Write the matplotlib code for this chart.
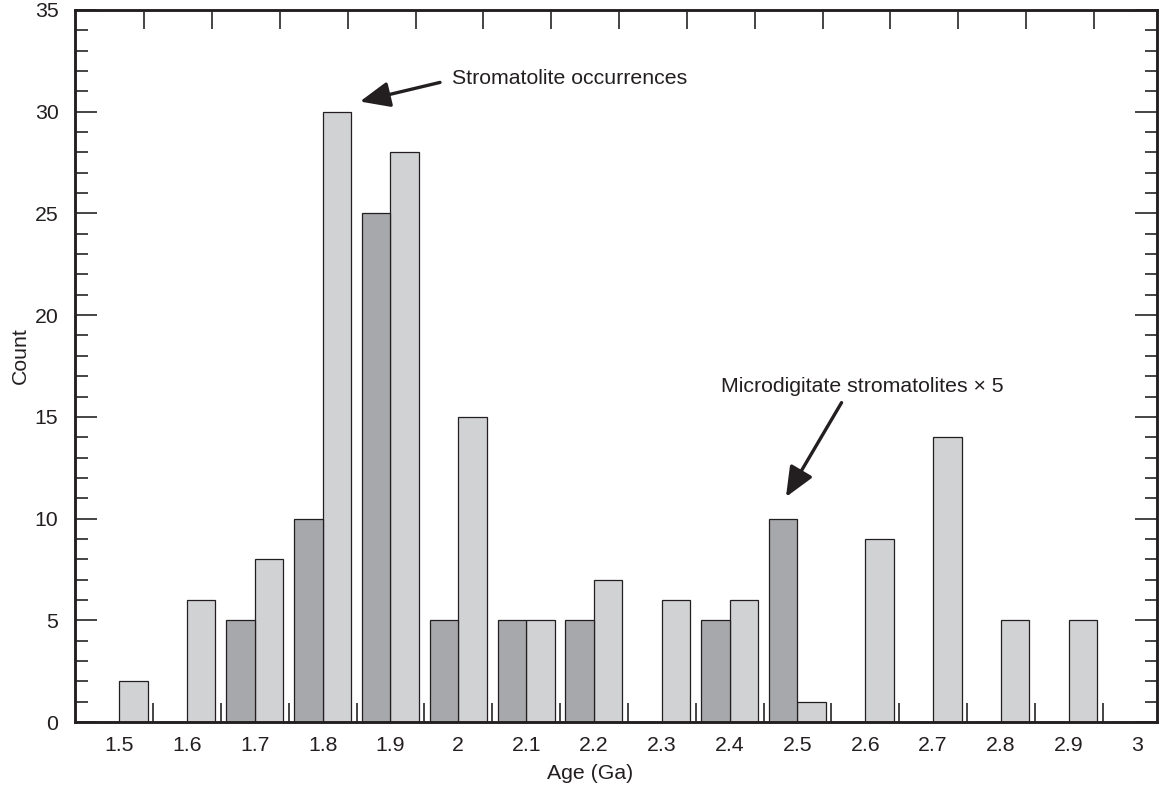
"""
Stromatolite occurrences vs age, with microdigitate stromatolites (x5).
"""
import numpy as np
import matplotlib
matplotlib.use("Agg")
import matplotlib.pyplot as plt
from matplotlib.ticker import MultipleLocator, FixedLocator

plt.rcParams["font.family"] = ["Liberation Sans", "DejaVu Sans"]

# --- data ---
ages = [1.5, 1.6, 1.7, 1.8, 1.9, 2.0, 2.1, 2.2, 2.3, 2.4, 2.5, 2.6, 2.7, 2.8, 2.9, 3.0]
age_labels = ["1.5", "1.6", "1.7", "1.8", "1.9", "2", "2.1", "2.2",
              "2.3", "2.4", "2.5", "2.6", "2.7", "2.8", "2.9", "3"]
occurrences = [2, 6, 8, 30, 28, 15, 5, 7, 6, 6, 1, 9, 14, 5, 5, 0]
microdigitate_x5 = [0, 0, 5, 10, 25, 5, 5, 5, 0, 5, 10, 0, 0, 0, 0, 0]

INK = "#231f20"
LIGHT = "#d1d2d4"
DARK = "#a7a8ab"
FS = 15.3
width = 0.042

fig = plt.figure(figsize=(11.6, 7.86), dpi=100)
ax = fig.add_axes([0.0647, 0.0814, 0.9327, 0.9059])

x = np.array(ages)
ax.bar(x, occurrences, width=width, align="edge", color=LIGHT,
       edgecolor=INK, linewidth=0.9, zorder=2)
ax.bar(x, microdigitate_x5, width=-width, align="edge", color=DARK,
       edgecolor=INK, linewidth=0.9, zorder=2)

ax.set_xlim(1.435, 3.03)
ax.set_ylim(0, 35)

# labels at the category positions, short ticks at the bin edges
ax.xaxis.set_major_locator(FixedLocator(ages))
ax.set_xticklabels(age_labels)
ax.xaxis.set_minor_locator(FixedLocator(x[:-1] + 0.05))
ax.tick_params(axis="x", which="major", length=0, pad=10, labelsize=FS,
               labelcolor=INK)
ax.tick_params(axis="x", which="minor", direction="in", length=14,
               width=1.4, color="#444444")

ax.yaxis.set_major_locator(MultipleLocator(5))
ax.yaxis.set_minor_locator(MultipleLocator(1))
ax.tick_params(axis="y", which="major", direction="in", length=16, width=1.4,
               color="#444444", right=True, pad=12, labelsize=FS,
               labelcolor=INK)
ax.tick_params(axis="y", which="minor", direction="in", length=9, width=1.4,
               color="#444444", right=True)

# top ticks are offset from the bottom ones in the original
top = ax.twiny()
top.set_xlim(ax.get_xlim())
top.xaxis.set_major_locator(FixedLocator(x[:-1] + 0.037))
top.tick_params(axis="x", direction="in", length=14, width=1.4,
                color="#444444", labeltop=False)

for a in (ax, top):
    for sp in a.spines.values():
        sp.set_linewidth(1.8)
        sp.set_color(INK)

ax.set_xlabel("Age (Ga)", fontsize=FS, color=INK)
ax.xaxis.set_label_coords(0.476, -0.059)
ax.set_ylabel("Count", fontsize=FS, color=INK)
ax.yaxis.set_label_coords(-0.042, 0.515)

arrow = dict(arrowstyle="-|>,head_length=0.7,head_width=0.3",
             mutation_scale=26, lw=2.4, color=INK, shrinkA=0, shrinkB=0)
peak = 3
ax.annotate("", xy=(ages[peak] + width + 0.013, occurrences[peak] + 0.5),
            xytext=(1.973, 31.44), arrowprops=arrow)
ax.text(1.991, 31.64, "Stromatolite occurrences", fontsize=FS,
        color=INK, ha="left", va="center")

md = 10
ax.annotate("", xy=(ages[md] - 0.017, microdigitate_x5[md] + 1.06),
            xytext=(2.565, 15.7), arrowprops=arrow)
ax.text(2.595, 16.49, "Microdigitate stromatolites \u00d7 5", fontsize=FS,
        color=INK, ha="center", va="center")

fig.savefig("out.png", dpi=100)
